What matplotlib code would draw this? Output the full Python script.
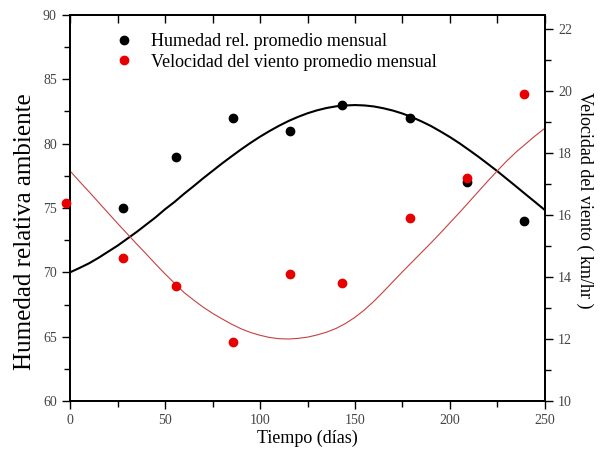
import matplotlib.pyplot as plt
from matplotlib.ticker import MultipleLocator
from matplotlib.lines import Line2D

plt.rcParams['font.family'] = ['Liberation Serif', 'DejaVu Serif']

# monthly averages
dias_hum = [28, 56, 86, 116, 143, 179, 209, 239]
humedad = [75, 79, 82, 81, 83, 82, 77, 74]
dias_viento = [-2, 28, 56, 86, 116, 143, 179, 209, 239]
viento = [16.4, 14.6, 13.7, 11.9, 14.1, 13.8, 15.9, 17.2, 19.9]

# fitted curves, every 5 days
dias_ajuste = list(range(0, 255, 5))
hum_ajuste = [70.0, 70.34, 70.7, 71.13, 71.6, 72.07, 72.6, 73.13, 73.7, 74.27,
              74.9, 75.47, 76.1, 76.69, 77.3, 77.88, 78.46, 79.01, 79.55, 80.06,
              80.54, 80.98, 81.39, 81.76, 82.08, 82.36, 82.59, 82.77, 82.9, 82.97,
              83.0, 82.97, 82.89, 82.75, 82.57, 82.34, 82.06, 81.73, 81.37, 80.95,
              80.51, 80.03, 79.51, 78.98, 78.42, 77.85, 77.25, 76.65, 76.04, 75.44,
              74.83]
viento_ajuste = [17.42, 17.08, 16.75, 16.41, 16.07, 15.73, 15.4, 15.07, 14.75, 14.42,
                 14.1, 13.8, 13.5, 13.26, 13.03, 12.83, 12.65, 12.48, 12.33, 12.21,
                 12.12, 12.05, 12.01, 12.0, 12.02, 12.06, 12.13, 12.22, 12.34, 12.5,
                 12.7, 12.94, 13.22, 13.53, 13.85, 14.17, 14.48, 14.79, 15.1, 15.42,
                 15.75, 16.08, 16.42, 16.76, 17.1, 17.43, 17.75, 18.04, 18.3, 18.56,
                 18.8]

fig = plt.figure(figsize=(6.01, 4.54), dpi=100)
ax = fig.add_axes([0.1165, 0.1167, 0.7903, 0.8503])
ax2 = ax.twinx()

ax.plot(dias_ajuste, hum_ajuste, color='black', lw=1.5)
ax.scatter(dias_hum, humedad, s=36, color='black', zorder=3)

ax2.plot(dias_ajuste, viento_ajuste, color='#c84040', lw=0.8)
ax2.scatter(dias_viento, viento, s=36, color='#e80000', zorder=5, clip_on=False)

ax.set_xlim(0, 250)
ax.set_ylim(60, 90)
ax2.set_ylim(10, 22.45)

ax.xaxis.set_major_locator(MultipleLocator(50))
ax.xaxis.set_minor_locator(MultipleLocator(25))
ax.yaxis.set_major_locator(MultipleLocator(5))
ax.yaxis.set_minor_locator(MultipleLocator(2.5))
ax2.yaxis.set_major_locator(MultipleLocator(2))
ax2.yaxis.set_minor_locator(MultipleLocator(1))

tick_color = '#444444'
ax.tick_params(axis='both', which='major', direction='out', length=6, width=1,
               labelsize=10, labelcolor=tick_color, top=False)
ax.tick_params(axis='both', which='minor', direction='out', length=4, width=1, top=False)
ax2.tick_params(axis='y', which='major', direction='out', length=6, width=1,
                labelsize=10, labelcolor=tick_color)
ax2.tick_params(axis='y', which='minor', direction='out', length=4, width=1)

# inward ticks along the top edge
top = ax.secondary_xaxis('top')
top.xaxis.set_major_locator(MultipleLocator(25))
top.tick_params(direction='in', length=6, width=1, labeltop=False)
top.spines['top'].set_linewidth(1.3)

for a in (ax, ax2):
    for s in a.spines.values():
        s.set_linewidth(1.3)

ax.set_xlabel('Tiempo (días)', fontsize=13, labelpad=2)
ax.set_ylabel('Humedad relativa ambiente', fontsize=18, va='center')
ax.yaxis.set_label_coords(-0.095, 0.44)
ax2.set_ylabel('Velocidad del viento ( km/hr )', fontsize=13, rotation=270,
               va='center')
ax2.yaxis.set_label_coords(1.084, 0.52)

handles = [Line2D([], [], marker='o', ls='none', color='black', markersize=6),
           Line2D([], [], marker='o', ls='none', color='#e80000', markersize=6)]
ax.legend(handles, ['Humedad rel. promedio mensual',
                    'Velocidad del viento promedio mensual'],
          loc='upper left', bbox_to_anchor=(0.06, 0.995), frameon=False,
          fontsize=13, handlelength=1.0, handletextpad=1.0, labelspacing=0.2)

fig.savefig('out.png', dpi=100)
